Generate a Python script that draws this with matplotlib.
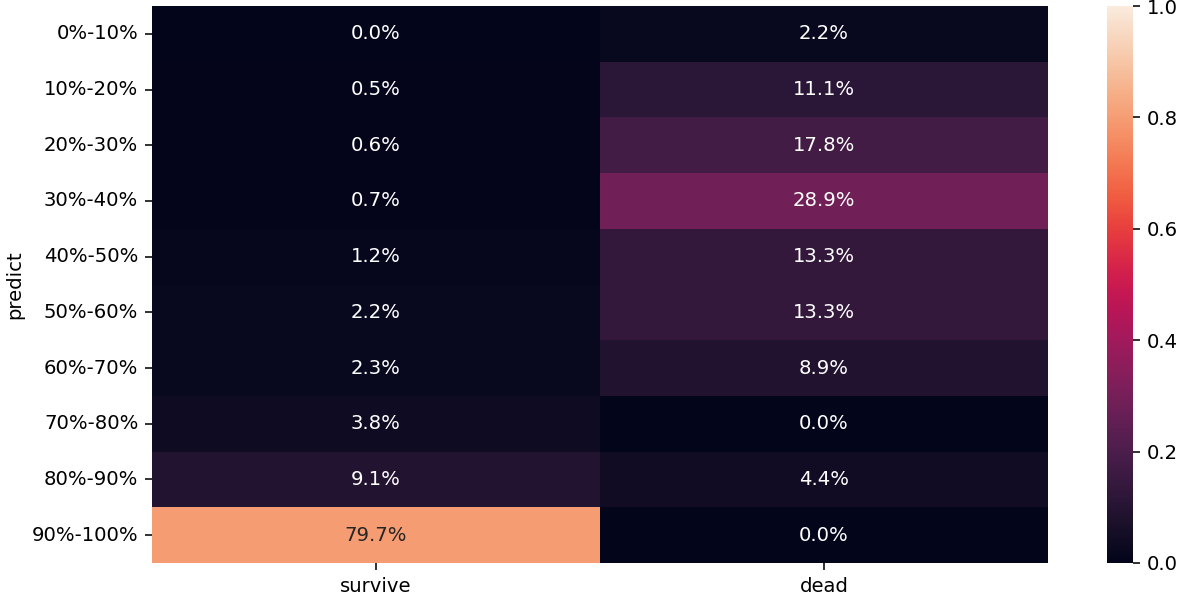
import matplotlib
matplotlib.use("Agg")
import matplotlib.pyplot as plt
import seaborn as sns
import numpy as np
import pandas as pd

rows = ["0%-10%", "10%-20%", "20%-30%", "30%-40%", "40%-50%", "50%-60%",
        "60%-70%", "70%-80%", "80%-90%", "90%-100%"]
cols = ["survive", "dead"]
survive = [0.000, 0.005, 0.006, 0.007, 0.012, 0.022, 0.023, 0.038, 0.091, 0.797]
dead = [0.022, 0.111, 0.178, 0.289, 0.133, 0.133, 0.089, 0.000, 0.044, 0.000]

df = pd.DataFrame({"survive": survive, "dead": dead}, index=rows)
df.index.name = "predict"

W, H = 1181, 597
DPI = 141
fig = plt.figure(figsize=(W / DPI, H / DPI), dpi=DPI)
ax = fig.add_axes([152 / W, 1 - 563 / H, (1048 - 152) / W, (563 - 6) / H])
cax = fig.add_axes([1107 / W, 1 - 563 / H, (1133 - 1107) / W, (563 - 6) / H])

sns.heatmap(df, ax=ax, cbar_ax=cax, vmin=0, vmax=1, cmap="rocket",
            annot=True, fmt=".1%", annot_kws={"size": 10})
ax.set_ylabel("predict")
ax.set_xlabel("")
ax.tick_params(axis="y", rotation=0)
cax.set_yticks([0, 0.2, 0.4, 0.6, 0.8, 1.0])
cax.set_yticklabels(["0.0", "0.2", "0.4", "0.6", "0.8", "1.0"])
fig.savefig("out.png", dpi=DPI)
